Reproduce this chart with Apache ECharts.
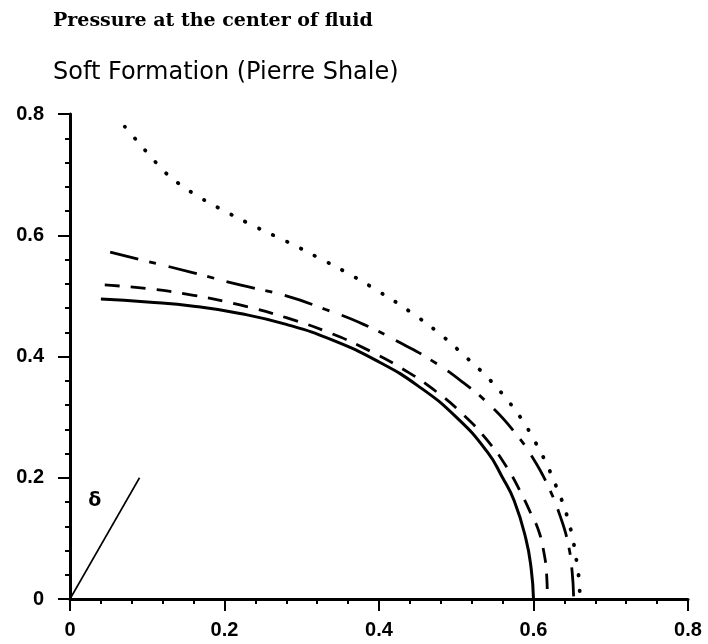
<!DOCTYPE html>
<html>
<head>
<meta charset="utf-8">
<title>Pressure at the center of fluid</title>
<script src="https://cdn.jsdelivr.net/npm/echarts@6/dist/echarts.min.js"></script>
<style>
  html, body { margin: 0; padding: 0; background: #ffffff; }
  #chart { width: 708px; height: 644px; }
</style>
</head>
<body>
<div id="chart"></div>
<script>
// Axis ticks
var xTicks = [0, 0.2, 0.4, 0.6, 0.8];
var yTicks = [0, 0.2, 0.4, 0.6, 0.8];

// Solid curve
var solidX = [0.040, 0.100, 0.160, 0.220, 0.280, 0.340, 0.400, 0.450, 0.500, 0.540, 0.560, 0.575, 0.590, 0.597, 0.600];
var solidY = [0.495, 0.490, 0.483, 0.471, 0.453, 0.427, 0.391, 0.352, 0.300, 0.243, 0.200, 0.162, 0.100, 0.050, 0.000];

// Dashed curve
var dashX = [0.045, 0.100, 0.160, 0.220, 0.280, 0.340, 0.390, 0.430, 0.470, 0.510, 0.540, 0.565, 0.585, 0.597, 0.606, 0.613, 0.617, 0.618];
var dashY = [0.518, 0.512, 0.501, 0.485, 0.464, 0.437, 0.408, 0.380, 0.346, 0.303, 0.262, 0.218, 0.172, 0.140, 0.115, 0.080, 0.040, 0.000];

// Dash-dot curve
var dashDotX = [0.052, 0.100, 0.160, 0.220, 0.280, 0.330, 0.380, 0.430, 0.470, 0.510, 0.545, 0.575, 0.600, 0.620, 0.635, 0.645, 0.650, 0.652];
var dashDotY = [0.572, 0.557, 0.538, 0.518, 0.500, 0.478, 0.453, 0.421, 0.392, 0.356, 0.318, 0.276, 0.231, 0.183, 0.135, 0.090, 0.045, 0.000];

// Dotted curve
var dotX = [0.071, 0.088, 0.105, 0.123, 0.140, 0.170, 0.200, 0.240, 0.280, 0.320, 0.360, 0.400, 0.440, 0.480, 0.510, 0.540,
            0.565, 0.585, 0.600, 0.615, 0.628, 0.638, 0.646, 0.652, 0.656, 0.659, 0.660];
var dotY = [0.779, 0.754, 0.729, 0.704, 0.686, 0.661, 0.640, 0.614, 0.590, 0.564, 0.537, 0.507, 0.474, 0.436, 0.402, 0.366,
            0.330, 0.296, 0.264, 0.228, 0.190, 0.158, 0.125, 0.092, 0.060, 0.030, 0.000];

// Angle marker for delta
var deltaX = [0, 0.09];
var deltaY = [0, 0.2];
var deltaLabelPos = [0.032, 0.162];

function pairs(xs, ys) {
  return xs.map(function (x, i) { return [x, ys[i]]; });
}

function tickText(v) {
  return v === 0 ? '0' : v.toFixed(1);
}

function makeAxis(ticks, margin) {
  return {
    type: 'value',
    min: 0,
    max: 0.8,
    interval: 0.2,
    axisLine: { show: true, onZero: false, lineStyle: { color: '#000', width: 3 } },
    axisTick: { show: true, inside: false, length: 12, lineStyle: { color: '#000', width: 2 } },
    minorTick: { show: true, splitNumber: 5, length: 5, lineStyle: { color: '#000', width: 2 } },
    splitLine: { show: false },
    minorSplitLine: { show: false },
    axisLabel: {
      color: '#000',
      fontFamily: 'Liberation Sans',
      fontWeight: 'bold',
      fontSize: 20,
      margin: margin,
      customValues: ticks,
      formatter: tickText
    }
  };
}

var chart = echarts.init(document.getElementById('chart'), null, { renderer: 'canvas' });

function curve(name, xs, ys, dash, width, cap) {
  return {
    name: name,
    type: 'line',
    data: pairs(xs, ys),
    smooth: 0.5,
    showSymbol: false,
    symbol: 'none',
    clip: false,
    silent: true,
    lineStyle: { color: '#000', width: width, type: dash, cap: cap || 'butt', join: 'round' }
  };
}

chart.setOption({
  backgroundColor: '#ffffff',
  animation: false,
  title: [
    {
      text: 'Pressure at the center of fluid',
      left: 53,
      top: 12,
      padding: 0,
      textStyle: { fontFamily: 'DejaVu Serif', fontWeight: 'bold', fontSize: 19, color: '#000' }
    },
    {
      text: 'Soft Formation (Pierre Shale)',
      left: 53,
      top: 61,
      padding: 0,
      textStyle: { fontFamily: 'DejaVu Sans', fontWeight: 'normal', fontSize: 24, color: '#000' }
    }
  ],
  grid: { left: 70, right: 20, top: 114, bottom: 45, containLabel: false },
  xAxis: makeAxis(xTicks, 21),
  yAxis: makeAxis(yTicks, 26),
  series: [
    curve('solid', solidX, solidY, 'solid', 3),
    curve('dashed', dashX, dashY, [15, 11], 2.8),
    curve('dashdot', dashDotX, dashDotY, [29, 11, 7, 13], 2.8),
    curve('dotted', dotX, dotY, [0.5, 15], 3.8, 'round'),
    {
      name: 'delta',
      type: 'line',
      data: pairs(deltaX, deltaY),
      showSymbol: false,
      symbol: 'none',
      silent: true,
      lineStyle: { color: '#000', width: 1.6 }
    },
    {
      name: 'deltaLabel',
      type: 'scatter',
      data: [deltaLabelPos],
      symbolSize: 0,
      silent: true,
      itemStyle: { color: '#000', opacity: 1 },
      label: {
        show: true,
        position: 'inside',
        formatter: 'δ',
        fontFamily: 'DejaVu Sans',
        fontWeight: 'bold',
        fontSize: 19,
        color: '#000',
        opacity: 1,
        textBorderWidth: 0
      }
    }
  ]
});
</script>
</body>
</html>
